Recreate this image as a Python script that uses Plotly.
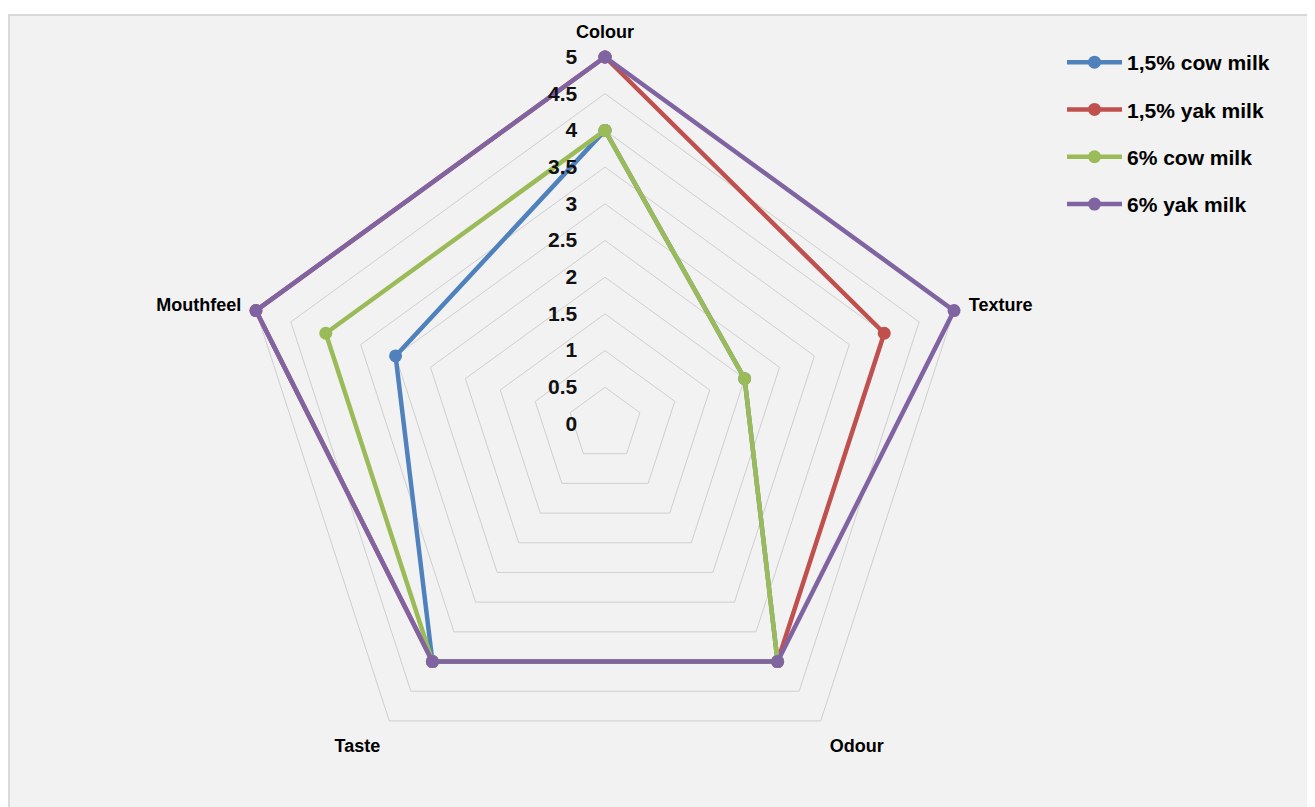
import plotly.graph_objects as go

categories = ["Colour", "Texture", "Odour", "Taste", "Mouthfeel"]
series_names = ["1,5% cow milk", "1,5% yak milk", "6% cow milk", "6% yak milk"]
cow_15 = [4, 2, 4, 4, 3]
yak_15 = [5, 4, 4, 4, 5]
cow_6 = [4, 2, 4, 4, 4]
yak_6 = [5, 5, 4, 4, 5]
tick_vals = [0, 0.5, 1, 1.5, 2, 2.5, 3, 3.5, 4, 4.5, 5]
tick_text = ["0", "0.5", "1", "1.5", "2", "2.5", "3", "3.5", "4", "4.5", "5"]

colors = ["#4f81bd", "#c0504d", "#9bbb59", "#8064a2"]
all_series = [cow_15, yak_15, cow_6, yak_6]

W, H = 1315, 807
FONT = "Liberation Sans, Arial, sans-serif"
fig = go.Figure()
for i, (name, vals) in enumerate(zip(series_names, all_series)):
    fig.add_trace(go.Scatterpolar(
        r=vals + vals[:1],
        theta=categories + categories[:1],
        mode="lines+markers",
        name=name,
        legendgroup=name,
        cliponaxis=False,
        line=dict(color=colors[i], width=4.5),
        marker=dict(color=colors[i], size=13),
    ))

r_max = 5.1
cx, cy, R5 = 597, 416, 367
R = R5 * r_max / 5
fig.update_layout(
    width=W, height=H,
    margin=dict(l=0, r=0, t=0, b=0),
    paper_bgcolor="white",
    plot_bgcolor="#f2f2f2",
    font=dict(family=FONT, color="black"),
    shapes=[dict(type="rect", xref="paper", yref="paper",
                 x0=1 / W, x1=1.02, y0=-0.02, y1=(H - 7) / H,
                 fillcolor="#f2f2f2", line=dict(color="#d9d9d9", width=2),
                 layer="below")],
    polar=dict(
        domain=dict(x=[(cx - R) / W, (cx + R) / W], y=[(H - cy - R) / H, (H - cy + R) / H]),
        bgcolor="rgba(0,0,0,0)",
        gridshape="linear",
        radialaxis=dict(
            range=[0, r_max], tickvals=tick_vals, ticktext=tick_text,
            angle=90, side="counterclockwise", tickangle=90,
            showline=False, ticks="outside", ticklen=20, tickcolor="rgba(0,0,0,0)",
            gridcolor="#cfcfcf", gridwidth=1.4,
            tickfont=dict(size=21, family=FONT, weight="bold", color="#111111"),
        ),
        angularaxis=dict(
            direction="clockwise", rotation=90,
            showgrid=False, showline=False,
            ticks="outside", ticklen=4, tickcolor="rgba(0,0,0,0)",
            tickfont=dict(size=18, family=FONT, weight="bold"),
        ),
    ),
    legend=dict(
        x=1054 / W, y=(H - 34) / H, xanchor="left", yanchor="top",
        bgcolor="rgba(0,0,0,0)",
        itemwidth=55,
        font=dict(size=21, family=FONT, weight="bold"),
        tracegroupgap=17,
    ),
    showlegend=True,
)
fig.write_html("out.html")
